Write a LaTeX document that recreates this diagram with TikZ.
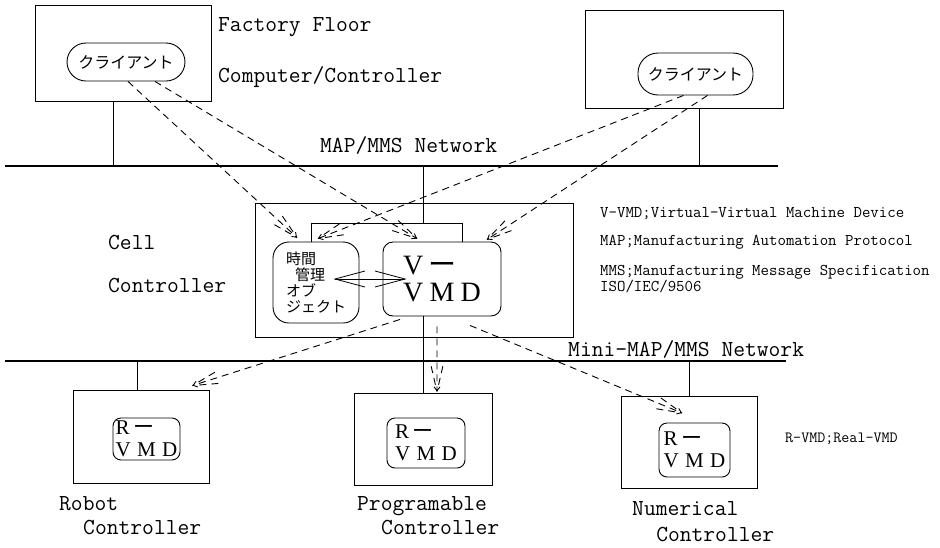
\documentclass[tikz,border=0pt]{standalone}
\usepackage{fontspec}
\setmainfont{Liberation Serif}
\newfontfamily\jpfont{Noto Sans CJK JP}
\usetikzlibrary{positioning,calc,arrows.meta}

\begin{document}
\begin{tikzpicture}[
    x=1pt, y=-1pt,
    box/.style={draw, line width=0.9pt, inner sep=0pt},
    pill/.style={draw, line width=0.9pt, inner sep=1pt, rounded corners=#1},
    pill/.default=10pt,
    rvmd/.style={align=left, font=\fontsize{21}{22}\selectfont},
    client/.style={font=\jpfont\fontsize{16}{16}\selectfont},
    lbl/.style={inner sep=0pt, anchor=base west, align=left, font=\ttfamily\fontsize{22.9}{24}\selectfont},
    note/.style={inner sep=0pt, anchor=base west, align=left, font=\ttfamily\fontsize{16.4}{16}\selectfont},
    net/.style={line width=1.1pt},
    link/.style={line width=0.9pt},
    fanarrow/.style={dash pattern=on 7pt off 5pt, line width=0.9pt, -{Straight Barb[length=4pt,width=6pt]},
      to path={($(\tikztotarget)!26pt!13:(\tikztostart)$) -- (\tikztotarget)
               ($(\tikztotarget)!26pt!-13:(\tikztostart)$) -- (\tikztotarget)
               (\tikztostart) -- (\tikztotarget) \tikztonodes}},
    dblarrow/.style={line width=0.8pt, {Straight Barb[length=30pt,width=16pt]}-{Straight Barb[length=30pt,width=16pt]}}
  ]
    \useasboundingbox (0,0) rectangle (940,547);

    % factory floor computers
    \node[box, minimum width=176pt, minimum height=96pt] (ff) at (123,53) {};
    \node[pill=19pt, client, minimum width=118pt, minimum height=38pt] (cl1) at (126,62) {クライアント};
    \node[lbl, font=\ttfamily\fontsize{22.9}{51}\selectfont] (fflbl) at (218,82) {Factory Floor\\Computer/Controller};
    \node[box, minimum width=198pt, minimum height=98pt] (pc2) at (684,59) {};
    \node[pill=20pt, client, minimum width=115pt, minimum height=42pt] (cl2) at (695.5,74) {クライアント};

    % MAP/MMS network
    \coordinate (mapL) at (5,166);
    \coordinate (mapR) at (778,166);
    \draw[net] (mapL) -- (mapR);
    \node[lbl] (maplbl) at (320,152) {MAP/MMS Network};

    % cell controller
    \node[box, minimum width=318pt, minimum height=134pt] (cell) at (414,270) {};
    \node[lbl, font=\ttfamily\fontsize{22.9}{43}\selectfont] (celllbl) at (108,292) {Cell\\Controller};
    \node[pill=16pt, minimum width=86pt, minimum height=81pt, align=left,
          font=\jpfont\fontsize{15}{16}\selectfont] (tm) at (316,282.5) {時間\\\hspace*{0.6em}管理\\オブ\\ジェクト};
    \node[pill=10pt, minimum width=118pt, minimum height=74pt, align=left,
          font=\fontsize{28}{27}\selectfont] (vmd) at (442,279) {V\,{\jpfont ー}\\V\hspace{.22em}M\hspace{.22em}D};
    \coordinate (tmarr) at ([xshift=-26pt,yshift=3.5pt]tm.east);
    \coordinate (vmdarr) at ([xshift=24pt]vmd.west);
    \draw[dblarrow] (tmarr) -- (vmdarr);
    \coordinate (brtop) at ([yshift=18pt]vmd.north);
    \draw[link] ([xshift=-5pt]tm.north) |- ([xshift=20pt]brtop) -- ([xshift=20pt]vmd.north);

    % legend
    \node[note] (legend) at (600,291) {V-VMD;Virtual-Virtual Machine Device\\[12pt]MAP;Manufacturing Automation Protocol\\[14pt]MMS;Manufacturing Message Specification\\ISO/IEC/9506};

    % Mini-MAP/MMS network
    \coordinate (miniL) at (5,361);
    \coordinate (miniR) at (786,361);
    \draw[net] (miniL) -- (miniR);
    \node[lbl] (minilbl) at (568,356) {Mini-MAP/MMS Network};

    % controllers
    \node[box, minimum width=136pt, minimum height=93pt] (robot) at (141,436.5) {};
    \node[pill=8pt, rvmd, minimum width=67pt, minimum height=42pt] (rv1) at (146.5,439) {R\,{\jpfont ー}\\V\hspace{.3em}M\hspace{.3em}D};
    \node[lbl] (robotlbl) at (59,534) {Robot\\\hspace*{1.05em}Controller};
    \node[box, minimum width=138pt, minimum height=92pt] (plc) at (423,439) {};
    \node[pill=8pt, rvmd, minimum width=78pt, minimum height=50pt] (rv2) at (426,443) {R\,{\jpfont ー}\\V\hspace{.3em}M\hspace{.3em}D};
    \node[lbl] (plclbl) at (357,534) {Programable\\\hspace*{1.05em}Controller};
    \node[box, minimum width=136pt, minimum height=92pt] (nc) at (689,442) {};
    \node[pill=8pt, rvmd, minimum width=71pt, minimum height=54pt] (rv3) at (694.5,450) {R\,{\jpfont ー}\\V\hspace{.3em}M\hspace{.3em}D};
    \node[lbl, font=\ttfamily\fontsize{22.9}{26}\selectfont] (nclbl) at (632,541) {Numerical\\\hspace*{1.05em}Controller};
    \node[note, font=\ttfamily\fontsize{15.6}{16}\selectfont] (rvmdnote) at (785,442) {R-VMD;Real-VMD};

    % taps to the networks
    \coordinate (fftap) at ([xshift=-10pt]ff.south);
    \coordinate (pc2tap) at ([xshift=15pt]pc2.south);
    \coordinate (celltap) at ([xshift=-19pt]vmd.south);
    \coordinate (robtap) at ([xshift=-4pt]robot.north);
    \draw[link] (fftap) -- (fftap |- mapL);
    \draw[link] (pc2tap) -- (pc2tap |- mapL);
    \draw[link] (plc.north |- mapL) -- (plc.north |- brtop);
    \draw[link] (celltap) -- (plc.north);
    \draw[link] (robtap) -- (robtap |- miniL);
    \draw[link] (nc.north) -- (nc.north |- miniL);

    % dashed message paths
    \coordinate (c1a) at ([xshift=2pt]cl1.south);
    \coordinate (c1b) at ([xshift=29pt]cl1.south);
    \coordinate (c2a) at ([xshift=-12pt]cl2.south);
    \coordinate (c2b) at ([xshift=12pt]cl2.south);
    \coordinate (tma) at ([xshift=-19pt,yshift=4pt]tm.north);
    \coordinate (tmb) at ([xshift=2pt,yshift=3pt]tm.north);
    \coordinate (vmda) at ([xshift=-25pt,yshift=3pt]vmd.north);
    \coordinate (vmdb) at ([xshift=45pt,yshift=2pt]vmd.north);
    \coordinate (vs1) at ([xshift=-42pt,yshift=-3pt]vmd.south);
    \coordinate (vs2) at ([xshift=-5pt,yshift=-10pt]vmd.south);
    \coordinate (vs3) at ([xshift=28pt,yshift=-9pt]vmd.south);
    \coordinate (robe) at ([xshift=-17pt,yshift=4pt]robot.north east);
    \coordinate (plce) at ([xshift=14pt,yshift=1pt]plc.north);
    \coordinate (nce) at ([xshift=-7pt,yshift=29pt]nc.center);

    \draw[fanarrow] (c1a) to (tma);
    \draw[fanarrow] (c1b) to (vmda);
    \draw[fanarrow] (c2a) to (tmb);
    \draw[fanarrow] (c2b) to (vmdb);
    \draw[fanarrow] (vs1) to (robe);
    \draw[fanarrow] (vs2) to (plce);
    \draw[fanarrow] (vs3) to (nce);
  \end{tikzpicture}
\end{document}
